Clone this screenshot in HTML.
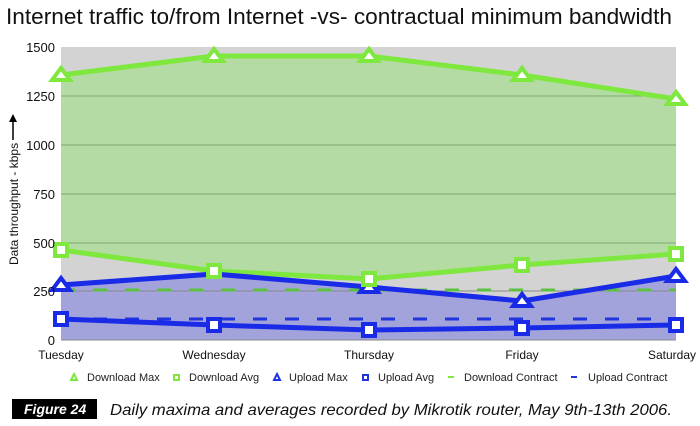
<!DOCTYPE html><html><head><style>body{margin:0;background:#fff;width:700px;height:421px;overflow:hidden;font-family:"Liberation Sans",sans-serif}</style></head><body>
<svg width="700" height="421" xmlns="http://www.w3.org/2000/svg" font-family="Liberation Sans, sans-serif">
<text x="6" y="24" font-size="22" fill="#111" textLength="666" lengthAdjust="spacingAndGlyphs">Internet traffic to/from Internet -vs- contractual minimum bandwidth</text>
<rect x="61" y="47" width="615" height="293" fill="#d3d3d3"/>
<polygon points="61,75 214,56 369,56 522,75 676,99 676,254 522,265 369,279 214,271 61,250" fill="#b4dba3"/>
<polygon points="61,285 214,274 369,287 522,301 676,276 676,340 61,340" fill="#a3a3dc"/>
<g stroke="#7aa870" stroke-width="1">
<line x1="61" y1="96" x2="676" y2="96"/><line x1="61" y1="145" x2="676" y2="145"/><line x1="61" y1="194" x2="676" y2="194"/><line x1="61" y1="243" x2="676" y2="243"/></g>
<line x1="61" y1="291" x2="676" y2="291" stroke="#888" stroke-width="1"/>
<line x1="61" y1="340" x2="676" y2="340" stroke="#888"/>
<line x1="61" y1="290" x2="676" y2="290" stroke="#5cc040" stroke-width="3" stroke-dasharray="14,18"/>
<line x1="61" y1="319" x2="676" y2="319" stroke="#2233e0" stroke-width="3" stroke-dasharray="14,18"/>
<g fill="none" stroke-width="5" stroke-linejoin="round">
<polyline points="61,75 214,56 369,56 522,75 676,99" stroke="#7ee83e"/>
<polyline points="61,250 214,271 369,279 522,265 676,254" stroke="#7ee83e"/>
<polyline points="61,285 214,274 369,287 522,301 676,276" stroke="#1a2be8"/>
<polyline points="61,319 214,325 369,330 522,328 676,325" stroke="#1a2be8"/>
</g>
<g stroke-width="4" fill="#fff">
<g stroke="#1a2be8">
<polygon points="61,278 70,290 52,290"/><polygon points="369,280 378,292 360,292"/><polygon points="522,294 531,306 513,306"/><polygon points="676,269 685,281 667,281"/>
<rect x="55" y="313" width="12" height="12"/><rect x="208" y="319" width="12" height="12"/><rect x="363" y="324" width="12" height="12"/><rect x="516" y="322" width="12" height="12"/><rect x="670" y="319" width="12" height="12"/></g>
<g stroke="#7ee83e">
<polygon points="61,68 70,80 52,80"/><polygon points="214,49 223,61 205,61"/><polygon points="369,49 378,61 360,61"/><polygon points="522,68 531,80 513,80"/><polygon points="676,92 685,104 667,104"/>
<rect x="55" y="244" width="12" height="12"/><rect x="208" y="265" width="12" height="12"/><rect x="363" y="273" width="12" height="12"/><rect x="516" y="259" width="12" height="12"/><rect x="670" y="248" width="12" height="12"/></g>
</g>
<g font-size="13" fill="#111" text-anchor="end">
<text x="55" y="52">1500</text><text x="55" y="101">1250</text><text x="55" y="150">1000</text><text x="55" y="199">750</text><text x="55" y="248">500</text><text x="55" y="296">250</text><text x="55" y="345">0</text></g>
<g font-size="12" fill="#111" text-anchor="middle">
<text x="61" y="359">Tuesday</text><text x="214" y="359">Wednesday</text><text x="369" y="359">Thursday</text><text x="522" y="359">Friday</text><text x="672" y="359">Saturday</text></g>
<line x1="13" y1="140" x2="13" y2="120" stroke="#000" stroke-width="1.5"/><polygon points="13,114 9,122 17,122" fill="#000"/>
<text transform="translate(18,265) rotate(-90)" font-size="12" fill="#111">Data throughput - kbps</text>
<g font-size="11" fill="#222">
<polygon points="74,374 77,380 71,380" fill="none" stroke="#7ee83e" stroke-width="2"/><text x="87" y="381">Download Max</text>
<rect x="174" y="375" width="5" height="5" fill="none" stroke="#7ee83e" stroke-width="2"/><text x="189" y="381">Download Avg</text>
<polygon points="277,374 280,380 274,380" fill="none" stroke="#2233e0" stroke-width="2"/><text x="289" y="381">Upload Max</text>
<rect x="363" y="375" width="5" height="5" fill="none" stroke="#2233e0" stroke-width="2"/><text x="378" y="381">Upload Avg</text>
<line x1="448" y1="377" x2="454" y2="377" stroke="#7ee83e" stroke-width="2"/><text x="464" y="381">Download Contract</text>
<line x1="571" y1="377" x2="577" y2="377" stroke="#2233e0" stroke-width="2"/><text x="588" y="381">Upload Contract</text></g>
<rect x="12" y="399" width="85" height="20" fill="#000"/>
<text x="24" y="414" font-size="14" font-style="italic" font-weight="bold" fill="#fff">Figure 24</text>
<text x="110" y="415" font-size="16" font-style="italic" fill="#111" textLength="562" lengthAdjust="spacingAndGlyphs">Daily maxima and averages recorded by Mikrotik router, May 9th-13th 2006.</text>
</svg></body></html>
